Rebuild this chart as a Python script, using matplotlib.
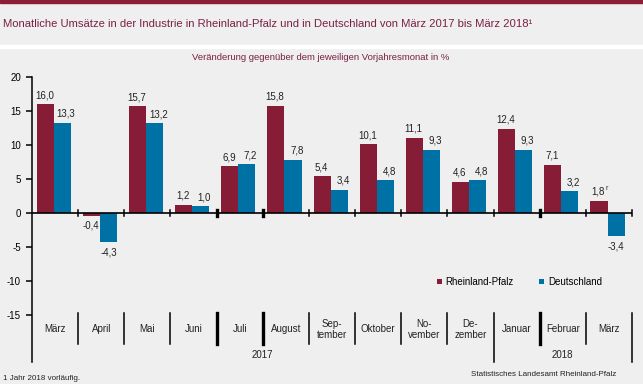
import matplotlib.pyplot as plt
from matplotlib.patches import Rectangle

plt.rcParams['font.family'] = ['Liberation Sans', 'DejaVu Sans']

# Monate (Kategorien) und Werte in %
monate = ['März', 'April', 'Mai', 'Juni', 'Juli', 'August', 'Sep-\ntember',
          'Oktober', 'No-\nvember', 'De-\nzember', 'Januar', 'Februar', 'März']
rlp = [16.0, -0.4, 15.7, 1.2, 6.9, 15.8, 5.4, 10.1, 11.1, 4.6, 12.4, 7.1, 1.8]
de = [13.3, -4.3, 13.2, 1.0, 7.2, 7.8, 3.4, 4.8, 9.3, 4.8, 9.3, 3.2, -3.4]
jahre = ['2017', '2018']
jahr_grenzen = [(0, 10), (10, 13)]
y_ticks = [20, 15, 10, 5, 0, -5, -10, -15]

c_rlp = '#861c35'
c_de = '#0071a4'
c_text = '#7a2045'
bg = '#eeefee'

W, H = 643, 384
fig = plt.figure(figsize=(W / 100, H / 100), dpi=100, facecolor=bg)

# Kopfbalken und Trennstreifen
fig.patches.append(Rectangle((0, 1 - 3 / H), 1, 3 / H, transform=fig.transFigure,
                             color='#8a1e35', zorder=0))
fig.patches.append(Rectangle((0, 1 - 48 / H), 1, 3 / H, transform=fig.transFigure,
                             color='white', zorder=0))

fig.text(3 / W, 1 - 24 / H, 'Monatliche Umsätze in der Industrie in Rheinland-Pfalz und in '
         'Deutschland von März 2017 bis März 2018¹', fontsize=8.1, color=c_text,
         va='center', ha='left')
fig.text(321 / W, 1 - 57 / H, 'Veränderung gegenüber dem jeweiligen Vorjahresmonat in %',
         fontsize=6.8, color=c_text, va='center', ha='center')

ax = fig.add_axes([32 / W, (H - 362) / H, 600 / W, (362 - 77) / H])
ax.set_facecolor(bg)
ymin = -21.9
ax.set_xlim(0, 13)
ax.set_ylim(ymin, 20)

n = len(monate)
xs = list(range(n))
bw = 0.37
x_rlp = [x + 0.285 for x in xs]
x_de = [x + 0.655 for x in xs]
ax.bar(x_rlp, rlp, width=bw, color=c_rlp, zorder=2, label='Rheinland-Pfalz')
ax.bar(x_de, de, width=bw, color=c_de, zorder=2, label='Deutschland')

def fmt(v):
    return f'{v:.1f}'.replace('.', ',')

for i in range(n):
    for x, v, dx in ((x_rlp[i], rlp[i], -1), (x_de[i], de[i], 5)):
        off = 4 if v >= 0 else -5
        txt = fmt(v)
        ax.annotate(txt, (x, v), xytext=(dx * 0.75 if v >= 0 else 0, off),
                    textcoords='offset pixels', ha='center',
                    va='bottom' if v >= 0 else 'top', fontsize=7, color='#222222')
# vorläufiger Wert
ax.annotate('r', (x_rlp[-1], rlp[-1]), xytext=(7, 9), textcoords='offset pixels',
            ha='left', va='bottom', fontsize=5, color='#222222')

# Nulllinie mit Strichen
ax.axhline(0, color='black', lw=1.2, zorder=3)
dicke = {4, 5, 11}
for b in range(1, n + 1):
    lw = 2.4 if b in dicke else 1.1
    ax.plot([b, b], [-0.5, 0.5], color='black', lw=lw, zorder=3, clip_on=False)
    unten = ymin if b in (10, 13) else -19.3
    ax.plot([b, b], [-14.7, unten], color='black', lw=lw, clip_on=False)

# Monatsbeschriftung
for i, m in enumerate(monate):
    ax.text(i + 0.5, -17.1, m, ha='center', va='center', fontsize=7,
            color='#222222', linespacing=1.15)
for j, (a, b) in zip(jahre, jahr_grenzen):
    ax.text((a + b) / 2, -20.9, j, ha='center', va='center', fontsize=7, color='#222222')

for s in ('top', 'right', 'bottom'):
    ax.spines[s].set_visible(False)
ax.spines['left'].set_linewidth(1.1)
ax.set_xticks([])
ax.set_yticks(y_ticks)
ax.set_yticklabels([str(t) for t in y_ticks])
ax.tick_params(axis='y', length=4, width=1.1, labelsize=7, pad=4, colors='black')

leg = ax.legend(loc='upper left', bbox_to_anchor=((433 - 32) / 600, (362 - 273) / 285),
                ncol=2, frameon=False, fontsize=7, handlelength=0.5, handleheight=0.5,
                handletextpad=0.4, columnspacing=2.6, borderaxespad=0)

fig.text(616 / W, 1 - 374 / H, 'Statistisches Landesamt Rheinland-Pfalz', fontsize=5.8,
         ha='right', va='center', color='#222222')
fig.text(3 / W, 1 - 379 / H, '1 Jahr 2018 vorläufig.', fontsize=5.8,
         ha='left', va='center', color='#222222')

fig.savefig('out.png', dpi=100, facecolor=bg)
